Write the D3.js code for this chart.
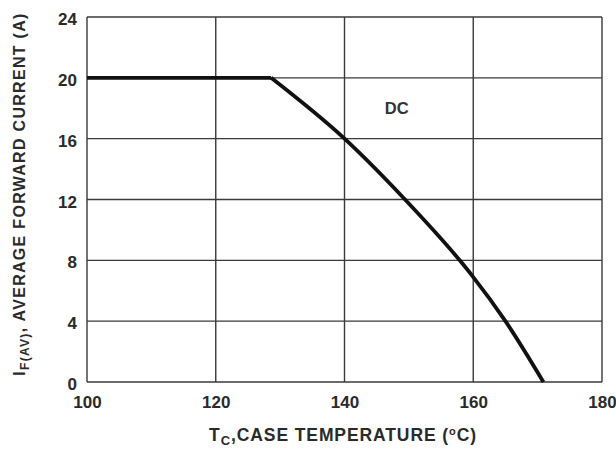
<!DOCTYPE html>
<html><head><meta charset="utf-8">
<script src="https://cdn.jsdelivr.net/npm/d3@7"></script>
<style>body{margin:0;background:#fff;} svg{display:block;}</style>
</head><body>
<svg id="c" width="616" height="449"></svg>
<script>
const xTicks = [100, 120, 140, 160, 180];
const yTicks = [0, 4, 8, 12, 16, 20, 24];
const curveT = [100, 128.6, 140, 149.4, 157.9, 160, 165.0, 170.9];
const curveI = [20, 20, 16, 12, 8, 6.9, 4, 0];
const curveLabel = "DC";

const svg = d3.select("#c");
const m = {l: 87, r: 602, t: 17, b: 382};
const x = d3.scaleLinear().domain([100, 180]).range([m.l, m.r]);
const y = d3.scaleLinear().domain([0, 24]).range([m.b, m.t]);
const font = "'Liberation Sans', Arial, sans-serif";

// grid
svg.append("g").selectAll("line").data(xTicks).join("line")
  .attr("x1", d => x(d)).attr("x2", d => x(d)).attr("y1", m.t).attr("y2", m.b)
  .attr("stroke", "#3a3a3a").attr("stroke-width", 1.4);
svg.append("g").selectAll("line").data(yTicks).join("line")
  .attr("y1", d => y(d)).attr("y2", d => y(d)).attr("x1", m.l).attr("x2", m.r)
  .attr("stroke", "#3a3a3a").attr("stroke-width", 1.4);

// axes labels
const xa = svg.append("g").attr("transform", `translate(0,${m.b + 14})`)
  .call(d3.axisBottom(x).tickValues(xTicks).tickSize(0).tickPadding(0));
xa.select(".domain").remove();
xa.selectAll("text").attr("font-family", font).attr("font-weight", "bold")
  .attr("font-size", 17).attr("fill", "#2a2a2a").attr("dy", "0.71em");

const ya = svg.append("g").attr("transform", `translate(${m.l - 10},0)`)
  .call(d3.axisLeft(y).tickValues(yTicks).tickSize(0).tickPadding(0));
ya.select(".domain").remove();
ya.selectAll("text").attr("font-family", font).attr("font-weight", "bold")
  .attr("font-size", 17).attr("fill", "#2a2a2a").attr("dy", "0.45em");

// curve: flat part then smooth derating part
const pts = curveT.map((t, i) => [t, curveI[i]]);
const flat = d3.line().x(d => x(d[0])).y(d => y(d[1]));
const bend = d3.line().x(d => x(d[0])).y(d => y(d[1])).curve(d3.curveMonotoneX);
const g = svg.append("g").attr("fill", "none").attr("stroke", "#111")
  .attr("stroke-width", 3.8).attr("stroke-linejoin", "round");
g.append("path").attr("d", flat(pts.slice(0, 2)));
g.append("path").attr("d", bend(pts.slice(1)));

svg.append("text").attr("x", x(148.1)).attr("y", y(17.65)).attr("text-anchor", "middle")
  .attr("font-family", font).attr("font-weight", "bold").attr("font-size", 16.5).attr("fill", "#333")
  .text(curveLabel);

// x title
const xt = svg.append("text").attr("x", 343).attr("y", 441).attr("text-anchor", "middle")
  .attr("font-family", font).attr("font-weight", "bold").attr("font-size", 17.5).attr("fill", "#2a2a2a")
  .attr("letter-spacing", 0.9);
xt.append("tspan").text("T");
xt.append("tspan").attr("font-size", 13).attr("dy", 4).text("C");
xt.append("tspan").attr("dy", -4).text(",CASE TEMPERATURE (");
xt.append("tspan").attr("font-size", 11).attr("dy", -6).text("o");
xt.append("tspan").attr("dy", 6).text("C)");

// y title
const yt = svg.append("text").attr("transform", `translate(25,${194}) rotate(-90)`)
  .attr("text-anchor", "middle")
  .attr("font-family", font).attr("font-weight", "bold").attr("font-size", 16).attr("fill", "#2a2a2a")
  .attr("letter-spacing", 1.3);
yt.append("tspan").text("I");
yt.append("tspan").attr("font-size", 12).attr("dy", 4).text("F(AV)");
yt.append("tspan").attr("dy", -4).text(", AVERAGE FORWARD CURRENT (A)");
</script>
</body></html>
